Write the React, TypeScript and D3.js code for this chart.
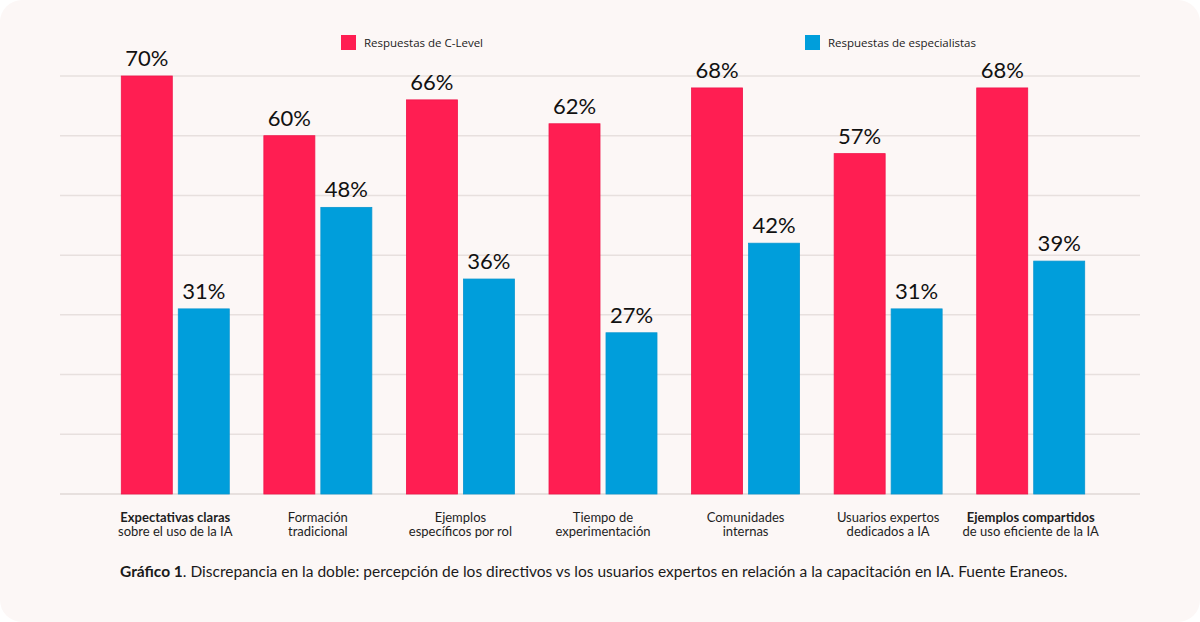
import { useEffect, useRef } from "react";
import * as d3 from "d3";

const categories = [
  ["Expectativas claras", "sobre el uso de la IA"],
  ["Formación", "tradicional"],
  ["Ejemplos", "específicos por rol"],
  ["Tiempo de", "experimentación"],
  ["Comunidades", "internas"],
  ["Usuarios expertos", "dedicados a IA"],
  ["Ejemplos compartidos", "de uso eficiente de la IA"],
];
const boldFirstLine = [true, false, false, false, false, false, true];
const cLevel = [70, 60, 66, 62, 68, 57, 68];
const especialistas = [31, 48, 36, 27, 42, 31, 39];
const seriesNames = ["Respuestas de C-Level", "Respuestas de especialistas"];
const yTicks = [0, 10, 20, 30, 40, 50, 60, 70];

const RED = "#ff1e52";
const BLUE = "#009edb";

export default function App() {
  const ref = useRef<HTMLDivElement | null>(null);

  useEffect(() => {
    if (!ref.current) return;
    document.body.style.margin = "0";
    d3.select(ref.current).selectAll("svg").remove();

    const width = 1200;
    const height = 622;
    const svg = d3
      .select(ref.current)
      .append("svg")
      .attr("width", width)
      .attr("height", height)
      .style("display", "block");

    svg
      .append("rect")
      .attr("width", width)
      .attr("height", height)
      .attr("fill", "#ffffff");
    svg
      .append("rect")
      .attr("width", width)
      .attr("height", height)
      .attr("rx", 22)
      .attr("fill", "#fcf7f6");

    const keys = categories.map((c) => c.join(" "));
    const x = d3
      .scaleBand()
      .domain(keys)
      .range([104, 1102])
      .paddingInner(0.2425)
      .paddingOuter(0.12125);
    const x1 = d3
      .scaleBand()
      .domain(["c", "e"])
      .range([0, x.bandwidth()])
      .paddingInner(0.105);
    const y = d3.scaleLinear([0, 70], [494, 76]);

    // grid
    svg
      .append("g")
      .selectAll("line")
      .data(yTicks)
      .join("line")
      .attr("x1", 60)
      .attr("x2", 1140)
      .attr("y1", (d) => y(d))
      .attr("y2", (d) => y(d))
      .attr("stroke", "#e7e0de")
      .attr("stroke-width", (d) => (d === 0 ? 2 : 1.5));

    const rows = keys.map((k, i) => ({
      key: k,
      vals: [
        { s: "c", v: cLevel[i], color: RED, stroke: "#f0154a" },
        { s: "e", v: especialistas[i], color: BLUE, stroke: "#0896d0" },
      ],
    }));

    const groups = svg
      .append("g")
      .selectAll("g")
      .data(rows)
      .join("g")
      .attr("transform", (d) => `translate(${x(d.key)},0)`);

    groups
      .selectAll("rect")
      .data((d) => d.vals)
      .join("rect")
      .attr("x", (d) => x1(d.s)!)
      .attr("y", (d) => y(d.v))
      .attr("width", x1.bandwidth())
      .attr("height", (d) => y(0) - y(d.v))
      .attr("fill", (d) => d.color)
      .attr("stroke", (d) => d.stroke)
      .attr("stroke-width", 0.8);

    groups
      .selectAll("text.val")
      .data((d) => d.vals)
      .join("text")
      .attr("class", "val")
      .attr("x", (d) => x1(d.s)! + x1.bandwidth() / 2)
      .attr("y", (d) => y(d.v) - 10)
      .attr("text-anchor", "middle")
      .attr("font-family", "Lato, sans-serif")
      .attr("font-size", 22)
      .attr("fill", "#111")
      .text((d) => `${d.v}%`);

    // category labels
    const labels = svg
      .append("g")
      .selectAll("text")
      .data(categories)
      .join("text")
      .attr("text-anchor", "middle")
      .attr("font-family", "Lato, sans-serif")
      .attr("font-size", 13)
      .attr("fill", "#1e1e1e");
    labels.each(function (d, i) {
      const t = d3.select(this);
      const cx = x(keys[i])! + x.bandwidth() / 2;
      t.append("tspan")
        .attr("x", cx)
        .attr("y", 522)
        .attr("font-weight", boldFirstLine[i] ? 700 : 400)
        .text(d[0]);
      t.append("tspan").attr("x", cx).attr("y", 536).text(d[1]);
    });

    // legend
    const legendX = [341, 805];
    const legend = svg
      .append("g")
      .selectAll("g")
      .data(seriesNames)
      .join("g")
      .attr("transform", (d, i) => `translate(${legendX[i]},35)`);
    legend
      .append("rect")
      .attr("width", 15)
      .attr("height", 15)
      .attr("fill", (d, i) => (i === 0 ? RED : BLUE));
    legend
      .append("text")
      .attr("x", 23)
      .attr("y", 12)
      .attr("font-family", "'Open Sans', sans-serif")
      .attr("font-size", 11.5)
      .attr("fill", "#222")
      .text((d) => d);

    // caption
    const cap = svg
      .append("text")
      .attr("x", 120)
      .attr("y", 577)
      .attr("font-family", "Lato, sans-serif")
      .attr("font-size", 15.5)
      .attr("fill", "#1a1a1a");
    cap.append("tspan").attr("font-weight", 700).text("Gráfico 1");
    cap
      .append("tspan")
      .text(
        ". Discrepancia en la doble: percepción de los directivos vs los usuarios expertos en relación a la capacitación en IA. Fuente Eraneos."
      );
  }, []);

  return <div ref={ref}></div>;
}
